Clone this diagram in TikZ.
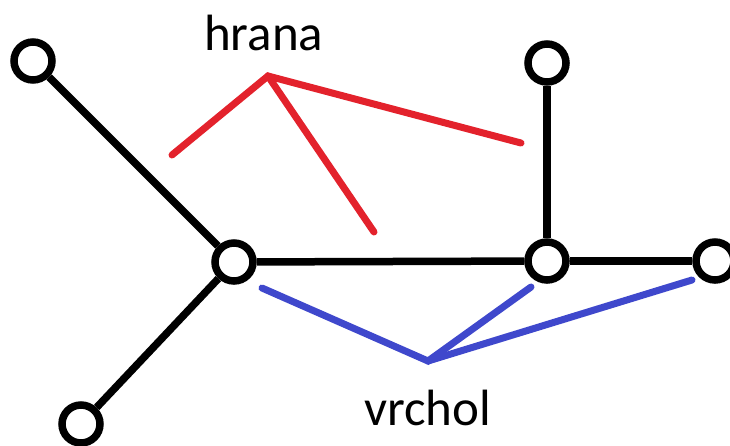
\documentclass[tikz,border=0pt]{standalone}
\usepackage{fontspec}
\setmainfont{Carlito}
\definecolor{edgered}{HTML}{E3222C}
\definecolor{vertblue}{HTML}{3F48CC}
\begin{document}
\begin{tikzpicture}[x=1pt,y=-1pt,
  vert/.style={circle,draw=black,line width=7.5pt,minimum size=38pt,inner sep=0pt,fill=white},
  edge/.style={line width=7.5pt,black},
  redline/.style={line width=7pt,edgered,line cap=round},
  blueline/.style={line width=7pt,vertblue,line cap=round},
  lbl/.style={font=\fontsize{51}{56}\selectfont,inner sep=0pt,anchor=base west}]
\useasboundingbox (0,0) rectangle (730,445);
% vertices
\node[vert] (tl) at (33,61) {};
\node[vert] (c)  at (234,262) {};
\node[vert] (bl) at (81,424) {};
\node[vert] (tr) at (547,63) {};
\node[vert] (rm) at (547,261) {};
\node[vert] (fr) at (715,261) {};
% edges
\draw[edge] (tl) -- (c);
\draw[edge] (bl) -- (c);
\draw[edge] (c) -- (rm);
\draw[edge] (rm) -- (tr);
\draw[edge] (rm) -- (fr);
% labels
\node[lbl] (hrana) at (204,50) {hrana};
\node[lbl] (vrchol) at (364,425) {vrchol};
% red pointers
\coordinate (ra) at (268,76);
\coordinate (r1) at (172,155);
\coordinate (r2) at (374,232);
\coordinate (r3) at (521,143);
\draw[redline] (r1) -- (ra) -- (r3);
\draw[redline] (ra) -- (r2);
% blue pointers
\coordinate (ba) at (428,361);
\coordinate (b1) at (262,288);
\coordinate (b2) at (531,287);
\coordinate (b3) at (692,280);
\draw[blueline] (b1) -- (ba) -- (b2);
\draw[blueline] (ba) -- (b3);
\end{tikzpicture}
\end{document}
